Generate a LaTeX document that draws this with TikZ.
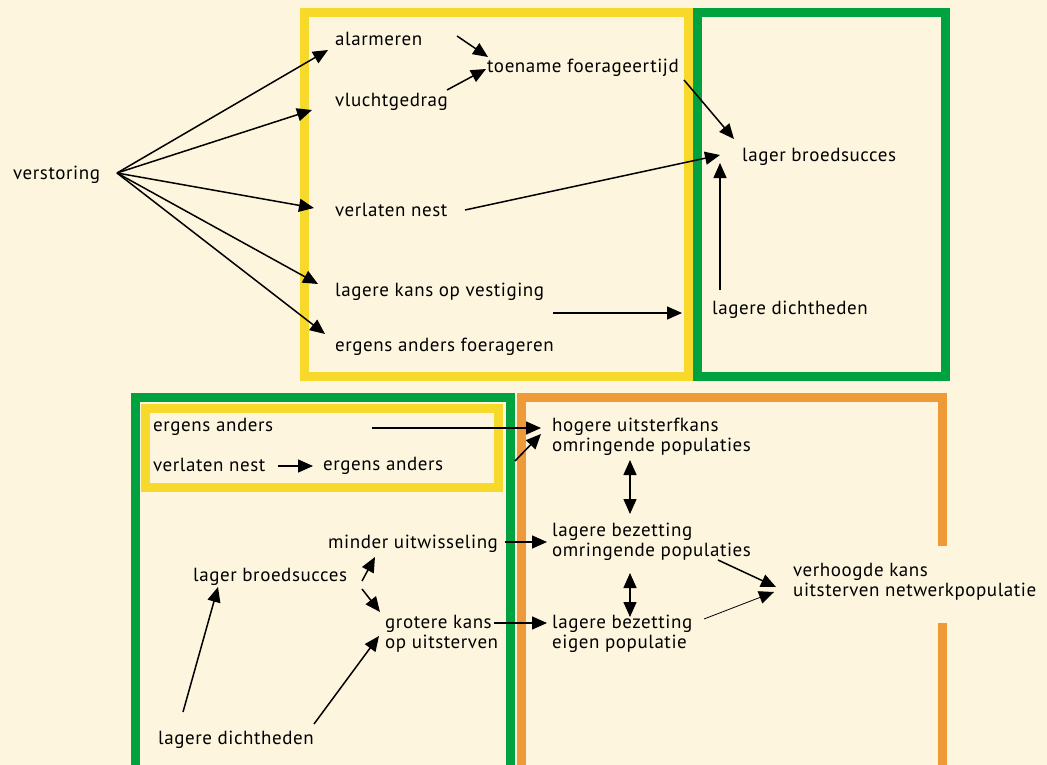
\documentclass[tikz,border=0pt]{standalone}
\usepackage{fontspec}
\setmainfont[LetterSpace=3]{PT Sans}
\usetikzlibrary{arrows.meta}
\definecolor{cream}{HTML}{FDF5DD}
\definecolor{ylw}{HTML}{F6D92B}
\definecolor{grn}{HTML}{00A13F}
\definecolor{orng}{HTML}{EF9A38}
\tikzset{
  lbl/.style={anchor=base west,inner sep=0pt,font=\fontsize{19}{19.5}\selectfont,align=left},
  arr/.style={-{Triangle[length=15pt,width=13pt]},line width=1.5pt},
  darr/.style={{Triangle[length=15pt,width=13pt]}-{Triangle[length=15pt,width=13pt]},line width=1.5pt},
  frame/.style={line width=9pt}
}
\begin{document}
\begin{tikzpicture}[x=1pt,y=-1pt]
\fill[cream] (0,0) rectangle (1047,765);
\useasboundingbox (0,0) rectangle (1047,765);
% frames
\draw[frame,ylw] (304.5,12.5) rectangle (688.5,376.5);
\draw[frame,grn] (697.5,12.5) rectangle (945.5,376.5);
\draw[frame,grn] (135.5,397.5) rectangle (510,775);
\draw[frame,ylw] (145,408) rectangle (498,487);
\draw[frame,orng] (942,546) -- (942,397.5) -- (521.5,397.5) -- (521.5,775) -- (942,775) -- (942,623);
% top texts
\node[lbl] (verst) at (13,179) {verstoring};
\node[lbl] (alarm) at (335,46) {alarmeren};
\node[lbl] (toen) at (487,73) {toename foerageertijd};
\node[lbl] (vlucht) at (335,107) {vluchtgedrag};
\node[lbl] (lbs) at (742,161) {lager broedsucces};
\node[lbl] (vnest) at (335,216) {verlaten nest};
\node[lbl] (lkov) at (335,296) {lagere kans op vestiging};
\node[lbl] (ldicht) at (712,314) {lagere dichtheden};
\node[lbl] (eaf) at (335,351) {ergens anders foerageren};
% bottom texts
\node[lbl] (ea1) at (153,431) {ergens anders};
\node[lbl] (vn2) at (153,471) {verlaten nest};
\node[lbl] (ea2) at (323,470) {ergens anders};
\node[lbl] (hog) at (552,451) {hogere uitsterfkans\\omringende populaties};
\node[lbl] (lbo) at (552,556) {lagere bezetting\\omringende populaties};
\node[lbl] (lbe) at (552,648) {lagere bezetting\\eigen populatie};
\node[lbl] (verh) at (793,596) {verhoogde kans\\uitsterven netwerkpopulatie};
\node[lbl] (mind) at (328,548) {minder uitwisseling};
\node[lbl] (lbs2) at (193,581) {lager broedsucces};
\node[lbl] (grot) at (385,648) {grotere kans\\op uitsterven};
\node[lbl] (ldi2) at (158,744) {lagere dichtheden};
% connector end points
\coordinate (v0) at (117,173);
\coordinate (alarmIn) at (328,50);
\coordinate (vluchtIn) at (312,110);
\coordinate (vnestIn) at (314,208);
\coordinate (lkovIn) at (318,284);
\coordinate (eafIn) at (325,334);
\coordinate (alarmOut) at (457,36);
\coordinate (toenIn1) at (488,57);
\coordinate (vluchtOut) at (447,90);
\coordinate (toenIn2) at (486,69);
\coordinate (toenOut) at (684,80);
\coordinate (lbsIn1) at (734,139);
\coordinate (vnestOut) at (465,210);
\coordinate (lbsIn2) at (720,155);
\coordinate (ldichtOut) at (720,290);
\coordinate (lbsIn3) at (720,163);
\coordinate (lkovOut) at (553,313);
\coordinate (ldichtIn) at (682,313);
\coordinate (ea1Out) at (372,428);
\coordinate (hogIn1) at (541,428);
\coordinate (ea2Out) at (515,461);
\coordinate (hogIn2) at (541,434);
\coordinate (vn2Out) at (278,466);
\coordinate (ea2In) at (313,466);
\coordinate (hogS) at (630,460);
\coordinate (lboN) at (630,514);
\coordinate (lboS) at (630,573);
\coordinate (lbeN) at (630,617);
\coordinate (mindOut) at (505,542);
\coordinate (lboIn) at (547,542);
\coordinate (grotOut) at (494,623);
\coordinate (lbeIn) at (547,623);
\coordinate (lboOut) at (718,560);
\coordinate (verhIn1) at (776,587);
\coordinate (lbeOut) at (704,619);
\coordinate (verhIn2) at (774,592);
\coordinate (lbs2Out1) at (362,581);
\coordinate (mindIn) at (375,557);
\coordinate (lbs2Out2) at (362,589);
\coordinate (grotIn1) at (380,612);
\coordinate (ldi2Out1) at (183,712);
\coordinate (lbs2In) at (218,587);
\coordinate (ldi2Out2) at (314,724);
\coordinate (grotIn2) at (379,636);
% connectors
\foreach \t in {alarmIn,vluchtIn,vnestIn,lkovIn,eafIn} \draw[arr] (v0) -- (\t);
\draw[arr] (alarmOut) -- (toenIn1);
\draw[arr] (vluchtOut) -- (toenIn2);
\draw[arr] (toenOut) -- (lbsIn1);
\draw[arr] (vnestOut) -- (lbsIn2);
\draw[arr] (ldichtOut) -- (lbsIn3);
\draw[arr] (lkovOut) -- (ldichtIn);
\draw[arr] (ea1Out) -- (hogIn1);
\draw[arr] (ea2Out) -- (hogIn2);
\draw[arr] (vn2Out) -- (ea2In);
\draw[darr] (hogS) -- (lboN);
\draw[darr] (lboS) -- (lbeN);
\draw[arr] (mindOut) -- (lboIn);
\draw[arr] (grotOut) -- (lbeIn);
\draw[arr] (lboOut) -- (verhIn1);
\draw[arr,line width=0.8pt] (lbeOut) -- (verhIn2);
\draw[arr] (lbs2Out1) -- (mindIn);
\draw[arr] (lbs2Out2) -- (grotIn1);
\draw[arr] (ldi2Out1) -- (lbs2In);
\draw[arr] (ldi2Out2) -- (grotIn2);
\end{tikzpicture}
\end{document}
